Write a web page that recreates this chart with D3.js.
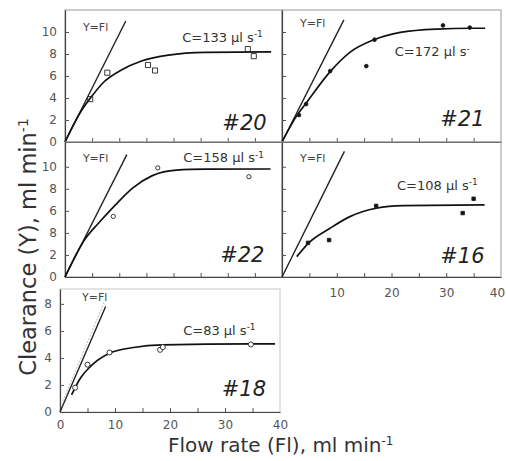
<!DOCTYPE html>
<html>
<head>
<meta charset="utf-8">
<script src="https://cdn.jsdelivr.net/npm/d3@7"></script>
<style>
body { margin: 0; background: #fff; }
svg { display: block; font-family: "DejaVu Sans", sans-serif; }
</style>
</head>
<body>
<svg id="fig" width="506" height="461"></svg>
<script>
// flow rate Fl (ml/min) vs clearance Y (ml/min)
var p20Points = [[4.65,3.9],[7.8,6.3],[15.3,7.0],[16.6,6.5],[33.7,8.45],[34.8,7.8]];
var p20Curve  = [[0,0],[2.9,2.75],[4.65,3.97],[7.26,5.5],[10.4,6.55],[14.1,7.36],[19.05,7.9],[25.9,8.15],[38,8.2]];
var p20Line   = [[0,0],[11.2,11.0]];

var p21Points = [[3.1,2.45],[4.4,3.45],[8.8,6.45],[15.4,6.9],[16.9,9.3],[29.4,10.6],[34.3,10.4]];
var p21Curve  = [[0,0],[2.7,2.4],[4.5,3.6],[8.8,6.4],[12.4,8.15],[16.8,9.3],[21.6,9.97],[28.3,10.27],[34.4,10.34],[37.1,10.34]];
var p21Line   = [[0,0],[11.3,11.1]];

var p22Points = [[8.9,5.5],[17.1,9.9],[33.9,9.1]];
var p22Curve  = [[0,0],[3.7,3.45],[6.2,4.9],[9.3,6.55],[12.4,8.05],[16.1,9.2],[20.5,9.7],[25.9,9.78],[37.9,9.8]];
var p22Line   = [[0,0],[11.4,11.1]];

var p16Points = [[4.75,3.1],[8.6,3.35],[17.2,6.45],[33.0,5.8],[35.0,7.1]];
var p16Curve  = [[2.7,1.85],[4.8,3.06],[8.76,4.42],[12.4,5.48],[17.2,6.24],[22.1,6.48],[37.0,6.55]];
var p16Line   = [[0,0],[11.4,11.4]];

var p18Points = [[2.75,1.8],[5.0,3.5],[9.0,4.4],[18.2,4.6],[18.7,4.8],[34.7,5.0]];
var p18Curve  = [[2.1,1.26],[3.7,2.5],[5.5,3.36],[9.0,4.35],[13.4,4.77],[18.6,4.96],[34.9,5.04],[39.1,5.04]];
var p18Line   = [[0,0],[8.3,7.8]];
var p18Guide  = [[0.5,0.8],[8.0,8.1]];

var panelNames = ["#20", "#21", "#22", "#16", "#18"];
var panelC     = ["C=133 μl s", "C=172 μl s", "C=158 μl s", "C=108 μl s", "C=83 μl s"];
var panelCsup  = ["-1", "-", "-1", "-1", "-1"];

var yTickText20 = ["0","2","4","6","8","10"];
var yTickText22 = ["0","2","8","6","8","10"];
var yTickText18 = ["0","2","4","6","8"];
var xTickVal16  = [10,20,30,40];
var xTickText16 = ["10","20","30","40"];
var xTickVal18  = [0,10,20,30,40];
var xTickText18 = ["0","10","20","30","40"];

var panels = [
  {i:0, pts:p20Points, curve:p20Curve, fl:p20Line, sym:d3.symbolSquare, size:26, fill:"none",
   x0:65, x1:282, yTop:10, yZero:142, yMax:12, yTopTick:10, yText:yTickText20,
   flPos:[3.3,10.1], cPos:[21.6,9.1], nPos:[29.0,1.1]},
  {i:1, pts:p21Points, curve:p21Curve, fl:p21Line, sym:d3.symbolCircle, size:11, fill:"#111",
   x0:282, x1:501, yTop:10, yZero:142, yMax:12, yTopTick:10, yText:null,
   flPos:[3.3,10.45], cPos:[20.6,7.8], nPos:[28.9,1.45]},
  {i:2, pts:p22Points, curve:p22Curve, fl:p22Line, sym:d3.symbolCircle, size:14, fill:"none",
   x0:65, x1:282, yTop:142, yZero:277, yMax:12.25, yTopTick:10, yText:yTickText22,
   flPos:[3.3,10.4], cPos:[21.8,10.4], nPos:[28.6,1.35]},
  {i:3, pts:p16Points, curve:p16Curve, fl:p16Line, sym:d3.symbolSquare, size:12, fill:"#111",
   x0:282, x1:501, yTop:142, yZero:277, yMax:12.25, yTopTick:10, yText:null,
   flPos:[3.3,10.45], cPos:[21.0,7.9], nPos:[28.9,1.3],
   xVal:xTickVal16, xText:xTickText16},
  {i:4, pts:p18Points, curve:p18Curve, fl:p18Line, sym:d3.symbolCircle, size:20, fill:"#fff",
   x0:60, x1:280, yTop:289, yZero:412, yMax:9.1, yTopTick:8, yText:yTickText18,
   flPos:[4.0,8.2], cPos:[22.4,5.7], nPos:[29.4,1.2], guide:p18Guide,
   xVal:xTickVal18, xText:xTickText18}
];

var svg = d3.select("#fig");

panels.forEach(function(p) {
  var x = d3.scaleLinear().domain([0, 40]).range([p.x0, p.x1]);
  var y = d3.scaleLinear().domain([0, p.yMax]).range([p.yZero, p.yTop]);
  var g = svg.append("g");

  g.append("rect")
    .attr("x", p.x0).attr("y", p.yTop)
    .attr("width", p.x1 - p.x0).attr("height", p.yZero - p.yTop)
    .attr("fill", "none")
    .attr("stroke", p.i == 4 ? "#c8c8c8" : "#999")
    .attr("stroke-width", 1);

  // ticks point inwards
  var xa = g.append("g").attr("transform", "translate(0," + p.yZero + ")")
    .call(d3.axisBottom(x).tickValues(d3.range(5, 40, 5)).tickSize(-4).tickSizeOuter(0).tickFormat(""));
  var ya = g.append("g").attr("transform", "translate(" + p.x0 + ",0)")
    .call(d3.axisLeft(y).tickValues(d3.range(2, p.yTopTick + 1, 2)).tickSize(-4).tickSizeOuter(0).tickFormat(""));
  [xa, ya].forEach(function(a) {
    a.select(".domain").attr("stroke", "#444").attr("stroke-width", 1.2);
    a.selectAll(".tick line").attr("stroke", "#555");
  });

  if (p.yText) {
    var yl = g.append("g").attr("transform", "translate(" + p.x0 + ",0)")
      .call(d3.axisLeft(y).tickValues(d3.range(0, p.yTopTick + 1, 2)).tickSize(0).tickPadding(8)
        .tickFormat(function(d, k) { return p.yText[k]; }));
    yl.select(".domain").remove();
    yl.selectAll("text").attr("font-size", 12).attr("font-family", "DejaVu Sans").attr("fill", "#555");
  }
  if (p.xText) {
    var xl = g.append("g").attr("transform", "translate(0," + p.yZero + ")")
      .call(d3.axisBottom(x).tickValues(p.xVal).tickSize(0).tickPadding(p.i == 4 ? 8 : 11)
        .tickFormat(function(d, k) { return p.xText[k]; }));
    xl.select(".domain").remove();
    xl.selectAll("text").attr("font-size", 12).attr("font-family", "DejaVu Sans").attr("fill", "#555");
    // keep the last label inside the page edge
    if (p.x1 > 490) xl.selectAll("text").filter(function(d) { return d == 40; }).attr("dx", -4);
  }

  var line = d3.line().x(function(d) { return x(d[0]); }).y(function(d) { return y(d[1]); });

  if (p.guide) {
    g.append("path").attr("d", line(p.guide))
      .attr("fill", "none").attr("stroke", "#bbb").attr("stroke-width", 1).attr("stroke-dasharray", "2,1.5");
  }
  g.append("path").attr("d", line(p.fl))
    .attr("fill", "none").attr("stroke", "#222").attr("stroke-width", 1.4);
  g.append("path").attr("d", line.curve(d3.curveMonotoneX)(p.curve))
    .attr("fill", "none").attr("stroke", "#111").attr("stroke-width", 1.7);

  g.selectAll(".pt").data(p.pts).enter().append("path")
    .attr("class", "pt")
    .attr("d", d3.symbol().type(p.sym).size(p.size))
    .attr("transform", function(d) { return "translate(" + x(d[0]) + "," + y(d[1]) + ")"; })
    .attr("fill", p.fill)
    .attr("stroke", "#222")
    .attr("stroke-width", 0.9);

  g.append("text")
    .attr("x", x(p.flPos[0])).attr("y", y(p.flPos[1]))
    .attr("font-size", 11).attr("fill", "#444")
    .text("Y=Fl");

  var ct = g.append("text")
    .attr("x", x(p.cPos[0])).attr("y", y(p.cPos[1]))
    .attr("font-size", 13).attr("fill", "#333")
    .text(panelC[p.i]);
  ct.append("tspan").attr("dy", "-0.5em").attr("font-size", 9).text(panelCsup[p.i]);

  g.append("text")
    .attr("x", x(p.nPos[0])).attr("y", y(p.nPos[1]))
    .attr("font-size", 21).attr("font-style", "italic").attr("fill", "#222")
    .text(panelNames[p.i]);
});

var yt = svg.append("text")
  .attr("transform", "translate(36,247) rotate(-90)")
  .attr("text-anchor", "middle")
  .attr("font-size", 22.5).attr("fill", "#333")
  .text("Clearance (Y), ml min");
yt.append("tspan").attr("dy", "-0.55em").attr("font-size", 14).text("-1");

var xt = svg.append("text")
  .attr("x", 168).attr("y", 452)
  .attr("font-size", 20).attr("fill", "#333")
  .text("Flow rate (Fl), ml min");
xt.append("tspan").attr("dy", "-0.55em").attr("font-size", 12).text("-1");
</script>
</body>
</html>
